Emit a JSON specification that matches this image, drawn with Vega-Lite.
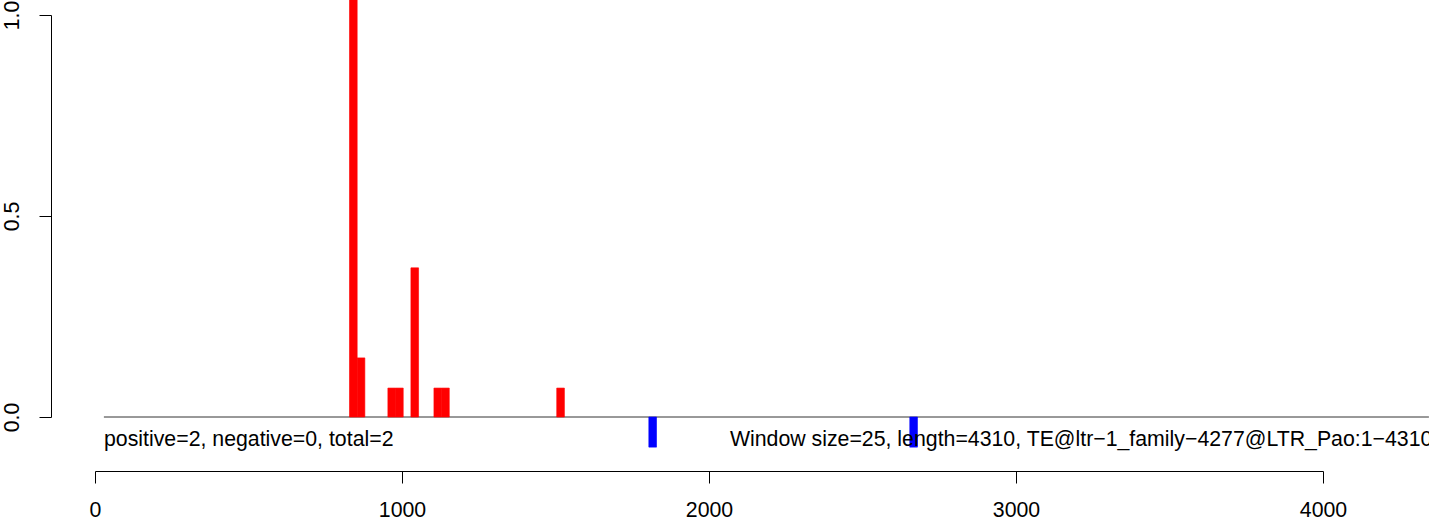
{
  "$schema": "https://vega.github.io/schema/vega-lite/v6.json",
  "width": 1334,
  "height": 471,
  "autosize": {"type": "none"},
  "padding": {"left": 95, "top": 0, "right": 0, "bottom": 48},
  "background": "white",
  "config": {"view": {"stroke": null}, "font": "Liberation Sans"},
  "datasets": {
    "bars": [
      {"start": 829, "end": 854, "value": 1.1, "strand": "pos"},
      {"start": 854, "end": 879, "value": 0.147, "strand": "pos"},
      {"start": 954, "end": 979, "value": 0.072, "strand": "pos"},
      {"start": 979, "end": 1004, "value": 0.072, "strand": "pos"},
      {"start": 1029, "end": 1054, "value": 0.371, "strand": "pos"},
      {"start": 1104, "end": 1129, "value": 0.072, "strand": "pos"},
      {"start": 1129, "end": 1154, "value": 0.072, "strand": "pos"},
      {"start": 1504, "end": 1529, "value": 0.072, "strand": "pos"},
      {"start": 1804, "end": 1829, "value": -0.075, "strand": "neg"},
      {"start": 2654, "end": 2679, "value": -0.075, "strand": "neg"}
    ],
    "baseline": [{"x": 29, "x2": 4345, "y": 0}],
    "labels": [
      {"x": 29.3, "y": -0.072, "label": "positive=2, negative=0, total=2"},
      {"x": 2068, "y": -0.072, "label": "Window size=25, length=4310, TE@ltr−1_family−4277@LTR_Pao:1−4310"}
    ]
  },
  "layer": [
    {
      "data": {"name": "baseline"},
      "mark": {"type": "rule", "color": "#333333", "strokeWidth": 1, "clip": true},
      "encoding": {
        "x": {"field": "x", "type": "quantitative", "scale": {"domain": [0, 4000], "range": [0, 1228], "nice": false, "zero": false},
          "axis": {"values": [0, 1000, 2000, 3000, 4000], "format": "d", "title": null, "grid": false, "tickSize": 12, "tickColor": "black", "domainColor": "black", "labelFontSize": 21.3, "labelColor": "black", "labelPadding": 16, "labelBaseline": "top", "labelFlush": false, "labelOverlap": false}},
        "x2": {"field": "x2"},
        "y": {"field": "y", "type": "quantitative", "scale": {"domain": [0, 1], "range": [417, 15], "nice": false, "zero": false},
          "axis": {"values": [0, 0.5, 1], "format": ".1f", "title": null, "grid": false, "offset": 44, "tickSize": 12, "tickColor": "black", "domainColor": "black", "labelFontSize": 21.3, "labelColor": "black", "labelAngle": -90, "labelAlign": "center", "labelBaseline": "alphabetic", "labelPadding": 21, "labelFlush": false, "labelOverlap": false}}
      }
    },
    {
      "data": {"name": "bars"},
      "mark": {"type": "rect", "clip": true, "strokeWidth": 0.6},
      "encoding": {
        "x": {"field": "start", "type": "quantitative"},
        "x2": {"field": "end"},
        "y": {"field": "value", "type": "quantitative"},
        "y2": {"datum": 0},
        "color": {"field": "strand", "type": "nominal", "scale": {"domain": ["pos", "neg"], "range": ["#FF0000", "#0000FF"]}, "legend": null},
        "stroke": {"field": "strand", "type": "nominal", "scale": {"domain": ["pos", "neg"], "range": ["#FF0000", "#0000FF"]}, "legend": null}
      }
    },
    {
      "data": {"name": "labels"},
      "mark": {"type": "text", "align": "left", "baseline": "alphabetic", "fontSize": 21.3, "color": "black"},
      "encoding": {
        "x": {"field": "x", "type": "quantitative"},
        "y": {"field": "y", "type": "quantitative"},
        "text": {"field": "label"}
      }
    }
  ]
}
